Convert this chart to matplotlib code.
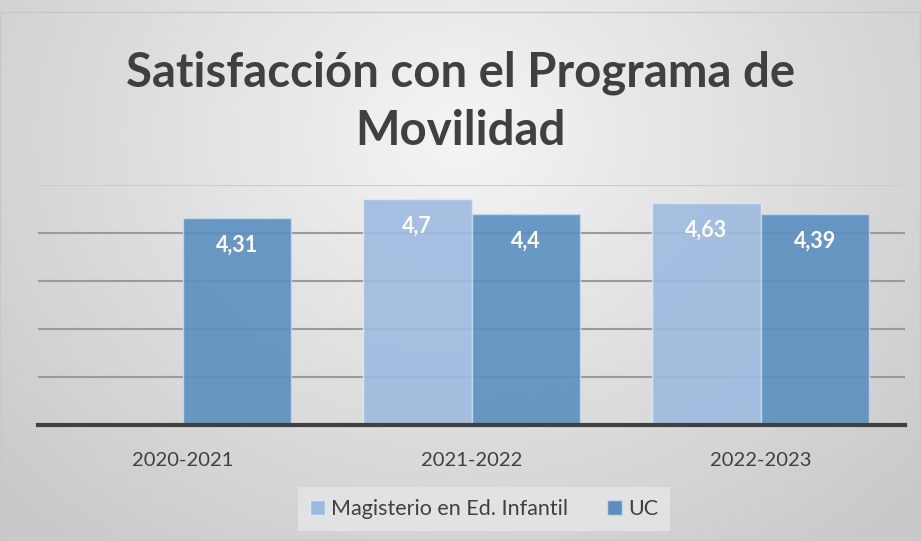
import numpy as np
import matplotlib.pyplot as plt
from matplotlib.patches import Rectangle, Patch

# Data
categories = ['2020-2021', '2021-2022', '2022-2023']
magisterio = [np.nan, 4.7, 4.63]
uc = [4.31, 4.4, 4.39]
series_names = ['Magisterio en Ed. Infantil', 'UC']
title = 'Satisfacción con el Programa de\nMovilidad'

plt.rcParams['font.family'] = ['Lato', 'DejaVu Sans']

W, H = 921, 541
fig = plt.figure(figsize=(W / 100, H / 100), dpi=100)

# radial grey background
bg = fig.add_axes([0, 0, 1, 1], zorder=-10)
yy, xx = np.mgrid[0:H, 0:W]
r = np.sqrt(((xx - W * 0.5) / (W * 0.55)) ** 2 + ((yy - H * 0.25) / (H * 0.8)) ** 2)
shade = 0.96 - 0.14 * np.clip(r, 0, 1.2)
bg.imshow(np.dstack([shade] * 3), aspect='auto', extent=[0, W, H, 0])
bg.add_patch(Rectangle((0, 12), W - 1, H - 13, fill=False, edgecolor='#c8c8c8', lw=1))
bg.set_xlim(0, W)
bg.set_ylim(H, 0)
bg.axis('off')

ax = fig.add_axes([38 / W, 116 / H, 867 / W, 240 / H])
ax.patch.set_alpha(0)

x = np.arange(len(categories))
width = 0.375
c_mag = '#9dbbe0'
c_uc = '#5b8fc0'

b1 = ax.bar(x - width / 2, magisterio, width, color=c_mag, alpha=0.9,
            edgecolor='#dce8f5', linewidth=1, zorder=3)
b2 = ax.bar(x + width / 2, uc, width, color=c_uc, alpha=0.9,
            edgecolor='#c6d8ec', linewidth=1, zorder=3)

for bars, vals in [(b1, magisterio), (b2, uc)]:
    for rect, v in zip(bars, vals):
        if np.isnan(v):
            continue
        ax.annotate(f'{v:g}'.replace('.', ','),
                    (rect.get_x() + rect.get_width() / 2, v),
                    xytext=(0, -27), textcoords='offset pixels',
                    ha='center', va='center', color='white',
                    fontsize=15.5, fontweight='bold', zorder=4)

ax.set_xlim(-0.5, 2.5)
ax.set_ylim(0, 5)
ax.set_yticks([1, 2, 3, 4, 5])
ax.yaxis.grid(True, color='#9a9a9a', linewidth=1.5, zorder=1)
ax.get_ygridlines()[-1].set_color('#cccccc')
ax.tick_params(axis='y', left=False, labelleft=False)
ax.tick_params(axis='x', bottom=False, labelsize=14.5, labelcolor='#404040', pad=16)
ax.set_xticks(x)
ax.set_xticklabels(categories)
for s in ['top', 'right', 'left']:
    ax.spines[s].set_visible(False)
ax.spines['bottom'].set_color('#404040')
ax.spines['bottom'].set_linewidth(3)
ax.spines['bottom'].set_zorder(5)

fig.text(0.5, 1 - 102 / H, title, ha='center', va='center', fontsize=34,
         fontweight='bold', color='#404040', linespacing=1.4)

handles = [Patch(facecolor=c_mag, edgecolor='#dce8f5'),
           Patch(facecolor=c_uc, edgecolor='#c6d8ec')]
leg = fig.legend(handles, series_names, loc='center', bbox_to_anchor=(484 / W, 1 - 509 / H),
                 ncol=2, frameon=True, fontsize=15.5, handlelength=0.7, handleheight=0.7,
                 handletextpad=0.3, columnspacing=1.8, borderpad=0.55)
leg.get_frame().set_facecolor('#e6e6e6')
leg.get_frame().set_edgecolor('none')
leg.get_frame().set_boxstyle('square', pad=0)
for t in leg.get_texts():
    t.set_color('#404040')

fig.savefig('out.png', dpi=100)
